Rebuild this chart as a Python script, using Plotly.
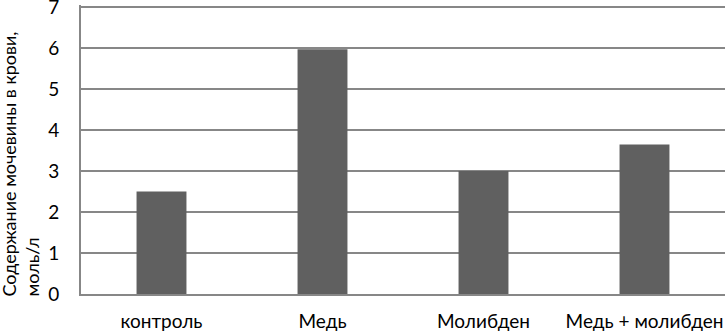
import plotly.graph_objects as go

categories = ["контроль", "Медь", "Молибден", "Медь + молибден"]
values = [2.5, 5.97, 3.0, 3.65]
y_ticks = [0, 1, 2, 3, 4, 5, 6, 7]
y_title = "Содержание мочевины в крови,<br>моль/л"

FONT = "Lato"
GRID = "#878787"

fig = go.Figure(go.Bar(
    x=categories, y=values,
    marker=dict(color="#606060", line=dict(width=0)),
))

fig.update_layout(
    width=726, height=332,
    margin=dict(l=81, r=1, t=5, b=38, autoexpand=False),
    paper_bgcolor="white", plot_bgcolor="white",
    bargap=0.69,
    showlegend=False,
    font=dict(family=FONT, size=19, color="#000000"),
)
fig.update_xaxes(
    showgrid=False, showline=True, linecolor=GRID, linewidth=2, zeroline=False,
    ticks="", ticklabelstandoff=9,
    tickfont=dict(family=FONT, size=19, color="#000000"),
    automargin=False,
)
fig.update_yaxes(
    range=[0, 7.05], tickvals=y_ticks,
    showgrid=True, gridcolor=GRID, gridwidth=2,
    showline=True, linecolor=GRID, linewidth=2,
    zeroline=False, ticks="", ticklabelstandoff=16,
    ticklabeloverflow="allow",
    tickfont=dict(family=FONT, size=19, color="#000000"),
    automargin=False,
)
fig.add_annotation(
    text=y_title, textangle=-90, align="left", showarrow=False,
    xref="paper", yref="paper", x=-81/644 + 19.5/644, y=(294 - 164) / 289,
    xanchor="center", yanchor="middle",
    font=dict(family=FONT, size=18, color="#000000"),
)

fig.write_html("out.html", config={"displayModeBar": False},
               post_script="document.body.style.margin='0';")
